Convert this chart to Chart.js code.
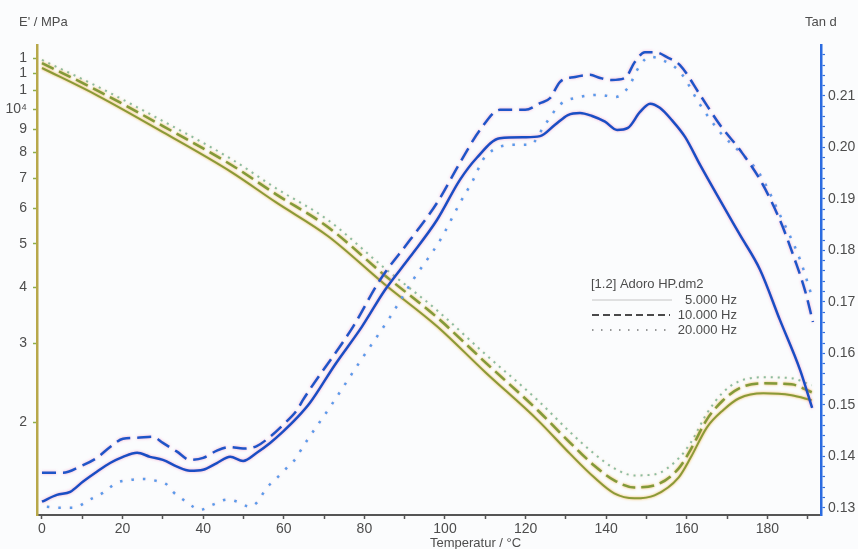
<!DOCTYPE html>
<html>
<head>
<meta charset="utf-8">
<script src="https://cdn.jsdelivr.net/npm/chart.js@4/dist/chart.umd.min.js"></script>
<style>
  html, body { margin: 0; padding: 0; background: #fbfcfd; overflow: hidden; }
  canvas { display: block; }
</style>
</head>
<body>
<canvas id="dma" width="858" height="549"></canvas>
<script>
// DMA sweep of Adoro HP: storage modulus E' (MPa, log axis) and loss factor tan d
const sampleName = '[1.2] Adoro HP.dm2';
const freqLabels = ['5.000 Hz', '10.000 Hz', '20.000 Hz'];

// E' curves, temperature in °C
const tempE   = [0, 14, 30, 47, 58, 71, 85, 98, 110, 123, 131, 137, 142, 147, 152, 158, 161, 165, 169, 173, 179, 186, 191];
const eMod5   = [12350, 10690, 8880, 7230, 6195, 5200, 4063, 3273, 2584, 2020, 1700, 1505, 1386, 1351, 1372, 1505, 1668, 1946, 2125, 2260, 2318, 2295, 2237];
const eMod10  = [12670, 10970, 9160, 7500, 6457, 5447, 4256, 3427, 2719, 2125, 1800, 1600, 1482, 1429, 1444, 1576, 1738, 2028, 2237, 2379, 2441, 2428, 2331];
const eMod20  = [12870, 11200, 9400, 7730, 6658, 5647, 4413, 3554, 2835, 2237, 1900, 1700, 1576, 1520, 1528, 1660, 1800, 2092, 2331, 2466, 2518, 2505, 2415];

// tan d, 5 Hz
const tempTan5 = [0, 3.7, 7, 10.2, 13.6, 16.9, 20.1, 23.6, 26.8, 30, 33.5, 36.7, 40, 43.4, 46.7, 49.9, 53.3, 56.6, 59.8, 63.3, 66.5, 72.7, 79.4, 85.1, 91.3, 98, 103.7, 107.9, 113.6, 119.9, 123.6, 127.3, 130.5, 133.5, 136.5, 139.7, 142.7, 145.4, 148.4, 150.9, 153.3, 156.3, 159.6, 163.3, 168.2, 173.2, 178.2, 183.1, 188.1, 191.1];
const tan5     = [0.1312, 0.1325, 0.1331, 0.1351, 0.1370, 0.1387, 0.1399, 0.1407, 0.1399, 0.1393, 0.1380, 0.1372, 0.1374, 0.1387, 0.1399, 0.1391, 0.1407, 0.1426, 0.1448, 0.1475, 0.1504, 0.1578, 0.1652, 0.1723, 0.1787, 0.1859, 0.1937, 0.1980, 0.2018, 0.2020, 0.2022, 0.2044, 0.2063, 0.2067, 0.2061, 0.2050, 0.2034, 0.2038, 0.2069, 0.2085, 0.2077, 0.2053, 0.2020, 0.1966, 0.1898, 0.1830, 0.1762, 0.1665, 0.1568, 0.1494];

// tan d, 10 Hz
const tempTan10 = [0, 5.2, 9.4, 13.6, 16.9, 20.1, 23.6, 27.5, 30, 33.5, 36.7, 40, 43.4, 46.7, 49.9, 53.3, 56.6, 59.8, 63.3, 64.8, 77.2, 83.9, 91.3, 98, 103.7, 108.7, 113.6, 119.9, 123.6, 126.1, 128.5, 132.3, 136, 138.5, 141.4, 144.7, 147.1, 149.6, 152.1, 155.4, 158.3, 163.3, 168.2, 173.2, 178.2, 183.1, 186.8, 189.3, 191.3];
const tan10     = [0.1368, 0.1368, 0.1380, 0.1397, 0.1418, 0.1434, 0.1436, 0.1438, 0.1426, 0.1409, 0.1393, 0.1397, 0.1411, 0.1418, 0.1415, 0.1420, 0.1438, 0.1461, 0.1490, 0.1510, 0.1652, 0.1743, 0.1820, 0.1892, 0.1970, 0.2034, 0.2073, 0.2073, 0.2086, 0.2096, 0.2127, 0.2137, 0.2141, 0.2135, 0.2131, 0.2135, 0.2166, 0.2185, 0.2185, 0.2174, 0.2160, 0.2102, 0.2044, 0.1995, 0.1937, 0.1859, 0.1782, 0.1723, 0.1661];

// tan d, 20 Hz
const tempTan20 = [1.2, 4.5, 7.7, 11.9, 15.1, 18.6, 21.8, 25.1, 28.5, 31, 32.5, 35, 37.5, 39.2, 42.4, 45.9, 48.4, 51.6, 53.3, 55.8, 58.3, 60.8, 63.3, 64, 71.5, 78.9, 86.4, 92.1, 98.8, 103.7, 107, 109.4, 111.9, 116.9, 121.1, 124.8, 128.5, 133.5, 138.5, 142.2, 145.4, 148.4, 150.9, 153.8, 158.3, 163.3, 168.2, 173.2, 178.2, 183.1, 188.1, 191.3];
const tan20     = [0.1302, 0.1300, 0.1300, 0.1316, 0.1329, 0.1349, 0.1354, 0.1356, 0.1352, 0.1345, 0.1331, 0.1316, 0.1302, 0.1296, 0.1306, 0.1316, 0.1312, 0.1302, 0.1310, 0.1339, 0.1358, 0.1378, 0.1399, 0.1409, 0.1496, 0.1584, 0.1671, 0.1743, 0.1820, 0.1892, 0.1937, 0.1976, 0.1995, 0.2005, 0.2005, 0.2044, 0.2083, 0.2098, 0.2102, 0.2098, 0.2116, 0.2160, 0.2176, 0.2170, 0.2147, 0.2083, 0.2030, 0.1991, 0.1947, 0.1869, 0.1782, 0.1704];

// axis ticks
const xTickValues   = [0, 10, 20, 30, 40, 50, 60, 70, 80, 90, 100, 110, 120, 130, 140, 150, 160, 170, 180, 190];
const xTickLabels   = ['0', '', '20', '', '40', '', '60', '', '80', '', '100', '', '120', '', '140', '', '160', '', '180', ''];
const eTickValues   = [2000, 3000, 4000, 5000, 6000, 7000, 8000, 9000, 10000, 11000, 12000, 13000];
const eTickLabels   = ['2', '3', '4', '5', '6', '7', '8', '9', '10\u2074', '1', '1', '1'];
const tanTickValues = [0.13, 0.14, 0.15, 0.16, 0.17, 0.18, 0.19, 0.20, 0.21];
const tanTickLabels = ['0.13', '0.14', '0.15', '0.16', '0.17', '0.18', '0.19', '0.20', '0.21'];
const tanMinorStep  = 0.002;

const FONT = '"Liberation Sans", Arial, Helvetica, sans-serif';
const TEXT = '#4d4d4d';

const pts = (xs, ys) => xs.map((x, i) => ({ x: x, y: ys[i] }));

// soft coloured fringe drawn around each curve
const halo = {
  id: 'halo',
  beforeDatasetDraw(chart, args) {
    const ds = chart.data.datasets[args.index];
    const ctx = chart.ctx;
    ctx.save();
    if (ds.haloColor) {
      ctx.shadowColor = ds.haloColor;
      ctx.shadowBlur = ds.haloBlur || 2;
    }
  },
  afterDatasetDraw(chart) {
    chart.ctx.restore();
  }
};

// background, axis captions and the frequency key
const decorations = {
  id: 'decorations',
  beforeDraw(chart) {
    const ctx = chart.ctx;
    ctx.save();
    ctx.fillStyle = '#fbfcfd';
    ctx.fillRect(0, 0, chart.width, chart.height);
    ctx.restore();
  },
  afterDraw(chart) {
    const ctx = chart.ctx;
    ctx.save();
    ctx.fillStyle = TEXT;
    ctx.font = '13px ' + FONT;
    ctx.textBaseline = 'middle';
    ctx.textAlign = 'left';
    ctx.fillText("E' / MPa", 19, 22);
    ctx.fillText('Tan d', 805, 22);
    ctx.fillText('Temperatur / \u00B0C', 430, 543);

    ctx.fillText(sampleName, 591, 284);
    const rows = [
      { y: 300, dash: [], color: '#c4c4c4', width: 1 },
      { y: 315, dash: [7, 4], color: '#4a4a4a', width: 2 },
      { y: 330, dash: [1.5, 7.5], color: '#777777', width: 1.5 }
    ];
    rows.forEach((r, i) => {
      ctx.save();
      ctx.strokeStyle = r.color;
      ctx.lineWidth = r.width;
      ctx.setLineDash(r.dash);
      ctx.beginPath();
      ctx.moveTo(592, r.y);
      ctx.lineTo(i === 0 ? 672 : 670, r.y);
      ctx.stroke();
      ctx.restore();
      ctx.textAlign = 'right';
      ctx.fillText(freqLabels[i], 737, r.y);
    });
    ctx.restore();
  }
};

const olive = {
  cubicInterpolationMode: 'monotone',
  pointRadius: 0,
  yAxisID: 'yE',
  order: 2
};
const blue = {
  cubicInterpolationMode: 'monotone',
  pointRadius: 0,
  yAxisID: 'yT',
  order: 1
};

new Chart(document.getElementById('dma'), {
  type: 'line',
  data: {
    datasets: [
      Object.assign({}, olive, { label: "E' " + freqLabels[0], data: pts(tempE, eMod5),
        borderColor: '#8a9a38', borderWidth: 2, haloColor: 'rgba(240,172,60,0.95)', haloBlur: 2.5 }),
      Object.assign({}, olive, { label: "E' " + freqLabels[1], data: pts(tempE, eMod10),
        borderColor: '#829a3a', borderWidth: 2.5, borderDash: [13, 6], haloColor: 'rgba(240,172,60,0.9)', haloBlur: 2.5 }),
      Object.assign({}, olive, { label: "E' " + freqLabels[2], data: pts(tempE, eMod20),
        borderColor: 'rgba(120,180,150,0.85)', borderWidth: 2, borderDash: [2, 5], haloColor: 'rgba(240,195,120,0.6)', haloBlur: 2 }),
      Object.assign({}, blue, { label: 'tan d ' + freqLabels[0], data: pts(tempTan5, tan5),
        borderColor: '#1a4ec4', borderWidth: 2.5, haloColor: 'rgba(240,110,175,0.6)', haloBlur: 3 }),
      Object.assign({}, blue, { label: 'tan d ' + freqLabels[1], data: pts(tempTan10, tan10),
        borderColor: '#1f55c8', borderWidth: 2.5, borderDash: [14, 7], haloColor: 'rgba(240,110,175,0.55)', haloBlur: 3 }),
      Object.assign({}, blue, { label: 'tan d ' + freqLabels[2], data: pts(tempTan20, tan20),
        borderColor: '#5a9bea', borderWidth: 2.5, borderDash: [2.5, 9], haloColor: 'rgba(240,140,190,0.35)', haloBlur: 2 })
    ]
  },
  options: {
    responsive: false,
    animation: false,
    devicePixelRatio: 1,
    layout: { padding: { top: 45, left: 0, right: 0, bottom: 0 } },
    plugins: { legend: { display: false }, tooltip: { enabled: false } },
    scales: {
      x: {
        type: 'linear',
        min: -1.24,
        max: 193.3,
        afterFit(s) { s.height = 34; },
        afterBuildTicks(s) { s.ticks = xTickValues.map(v => ({ value: v })); },
        ticks: {
          autoSkip: false, maxRotation: 0, padding: 2,
          color: TEXT, font: { family: FONT, size: 14 },
          callback: v => { const i = xTickValues.indexOf(v); return i < 0 ? '' : xTickLabels[i]; }
        },
        grid: { drawOnChartArea: false, tickLength: 4, tickColor: '#555', tickWidth: 1.5 },
        border: { color: '#555', width: 2 }
      },
      yE: {
        type: 'logarithmic',
        position: 'left',
        min: 1240,
        max: 13900,
        afterFit(s) { s.width = 37; },
        afterBuildTicks(s) { s.ticks = eTickValues.map(v => ({ value: v })); },
        ticks: {
          autoSkip: false, padding: 6,
          color: TEXT, font: { family: FONT, size: 14 },
          callback: v => { const i = eTickValues.indexOf(v); return i < 0 ? '' : eTickLabels[i]; }
        },
        grid: { drawOnChartArea: false, tickLength: 4, tickColor: '#8fae4c', tickWidth: 1.5 },
        border: { color: '#b8a84a', width: 2.5 }
      },
      yT: {
        type: 'linear',
        position: 'right',
        min: 0.1286,
        max: 0.2199,
        afterFit(s) { s.width = 37; },
        afterBuildTicks(s) {
          const list = [];
          for (let v = tanTickValues[0]; v <= s.max + 1e-9; v += tanMinorStep) {
            list.push({ value: Math.round(v * 1000) / 1000 });
          }
          s.ticks = list;
        },
        ticks: {
          autoSkip: false, padding: 3,
          color: TEXT, font: { family: FONT, size: 14 },
          callback: v => {
            const i = tanTickValues.findIndex(t => Math.abs(t - v) < 1e-6);
            return i < 0 ? '' : tanTickLabels[i];
          }
        },
        grid: { drawOnChartArea: false, tickLength: 4, tickColor: '#2f6fe0', tickWidth: 1.2 },
        border: { color: '#2b6be0', width: 2.5 }
      }
    }
  },
  plugins: [halo, decorations]
});
</script>
</body>
</html>
